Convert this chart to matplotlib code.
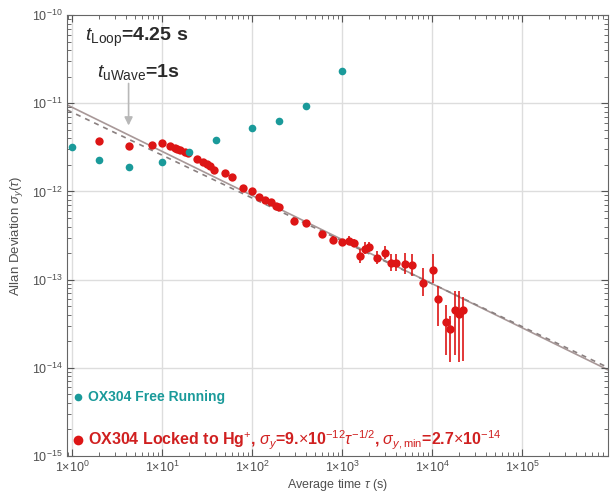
import matplotlib.pyplot as plt
import numpy as np

plt.rcParams['font.family'] = ['Liberation Sans', 'DejaVu Sans']
plt.rcParams['mathtext.fontset'] = 'custom'
plt.rcParams['mathtext.rm'] = 'Liberation Sans'
plt.rcParams['mathtext.it'] = 'Liberation Sans:italic'
plt.rcParams['mathtext.bf'] = 'Liberation Sans:bold'

# Free running oscillator
free_tau = [1.0, 2.0, 4.25, 10.0, 20.0, 40.0, 100.0, 200.0, 400.0, 1000.0]
free_adev = [3.2e-12, 2.3e-12, 1.9e-12, 2.14e-12, 2.8e-12, 3.8e-12, 5.2e-12, 6.3e-12, 9.3e-12, 2.3e-11]

# Locked to Hg+ (no visible error bars)
lock_tau = [2.0, 4.25, 7.7, 10.0, 12.3, 13.9, 14.8, 15.8, 18.0, 19.4, 24.5, 28.5, 31.6, 34.1,
            37.8, 50.1, 60.0, 79.4, 100.0, 119.6, 139.0, 163.0, 185.0, 200.0, 293.0, 398.0]
lock_adev = [3.7e-12, 3.25e-12, 3.4e-12, 3.5e-12, 3.25e-12, 3.08e-12, 3.0e-12, 2.92e-12, 2.77e-12,
             2.7e-12, 2.31e-12, 2.14e-12, 2.03e-12, 1.92e-12, 1.73e-12, 1.6e-12, 1.44e-12, 1.08e-12,
             1.0e-12, 8.55e-13, 8.1e-13, 7.5e-13, 6.76e-13, 6.58e-13, 4.68e-13, 4.33e-13]

# Locked to Hg+ (long tau, with error bars)
tail_tau = [600.0, 794.0, 1000.0, 1197.0, 1360.0, 1585.0, 1800.0, 1995.0, 2450.0, 3000.0, 3500.0,
            3980.0, 5010.0, 6000.0, 7940.0, 10260.0, 11660.0, 14300.0, 15850.0, 18030.0, 19950.0, 22100.0]
tail_adev = [3.33e-13, 2.85e-13, 2.7e-13, 2.77e-13, 2.63e-13, 1.87e-13, 2.25e-13, 2.37e-13, 1.78e-13,
             2.03e-13, 1.56e-13, 1.56e-13, 1.52e-13, 1.48e-13, 9.25e-14, 1.3e-13, 6.08e-14, 3.33e-14,
             2.77e-14, 4.56e-14, 4.11e-14, 4.56e-14]
tail_lo = [3.1e-13, 2.6e-13, 2.5e-13, 2.5e-13, 2.35e-13, 1.55e-13, 1.95e-13, 2.05e-13, 1.5e-13,
           1.7e-13, 1.25e-13, 1.25e-13, 1.15e-13, 1.1e-13, 6.5e-14, 9.2e-14, 3.0e-14, 1.4e-14,
           1.15e-14, 1.4e-14, 1.15e-14, 1.2e-14]
tail_hi = [3.6e-13, 3.1e-13, 2.9e-13, 3.1e-13, 2.9e-13, 2.2e-13, 2.65e-13, 2.7e-13, 2.1e-13,
           2.4e-13, 1.95e-13, 1.95e-13, 2.0e-13, 1.95e-13, 1.35e-13, 1.95e-13, 8.5e-14, 5.1e-14,
           3.9e-14, 7.5e-14, 7.5e-14, 6.3e-14]

# fits
fit_amp = 9e-12
fit2_amp = 7.9e-12
fit2_slope = -0.486
xmin, xmax = 0.88, 9e5

teal = '#1a9a9a'
red = '#dd1515'
grid_col = '#dddddd'
txt_col = '#505050'

fig = plt.figure(figsize=(6.11, 4.93), dpi=100)
ax = fig.add_axes([0.1097, 0.075, 0.8853, 0.8945])
ax.set_xscale('log')
ax.set_yscale('log')
ax.set_xlim(xmin, xmax)
ax.set_ylim(1e-15, 1e-10)

# grid
for d in range(0, 6):
    ax.axvline(10.0 ** d, color=grid_col, lw=1, zorder=0)
for d in range(-14, -10):
    ax.axhline(10.0 ** d, color=grid_col, lw=1, zorder=0)

# fit lines
t = np.array([xmin, xmax])
ax.plot(t, fit_amp * t ** -0.5, color='#a89898', lw=1.2, zorder=1)
ax.plot(t, fit2_amp * t ** fit2_slope, color='#8a8080', lw=1.2, ls=(0, (3, 3)), zorder=1)

# error bars
lo = np.array(tail_adev) - np.array(tail_lo)
hi = np.array(tail_hi) - np.array(tail_adev)
ax.errorbar(tail_tau, tail_adev, yerr=[lo, hi], fmt='none', ecolor=red, elinewidth=1.2, zorder=2)

ax.plot(lock_tau, lock_adev, 'o', color=red, ms=6, mec='none', zorder=3)
ax.plot(tail_tau, tail_adev, 'o', color=red, ms=6, mec='none', zorder=3)
ax.plot(free_tau, free_adev, 'o', color=teal, ms=5.5, mec='none', zorder=4)

# arrow marking t_Loop
ax.annotate('', xy=(4.25, 5.2e-12), xytext=(4.25, 1.8e-11),
            arrowprops=dict(arrowstyle='-|>', color='#b8b8b8', lw=1.2, mutation_scale=12))

ax.text(1.39, 5.6e-11, r'$t_{\mathrm{Loop}}$=4.25 s', fontsize=14, fontweight='bold',
        color='#2a2a2a', va='center')
ax.text(1.9, 2.25e-11, r'$t_{\mathrm{uWave}}$=1s', fontsize=14, fontweight='bold',
        color='#2a2a2a', va='center')

# legend-like labels
ax.plot([1.17], [4.7e-15], 'o', color=teal, ms=5.5, mec='none', clip_on=False)
ax.text(1.5, 4.7e-15, 'OX304 Free Running', color=teal, fontsize=10, fontweight='bold', va='center')
ax.plot([1.17], [1.5e-15], 'o', color=red, ms=7, mec='none', clip_on=False)
ax.text(1.5, 1.5e-15,
        r'OX304 Locked to Hg$^{+}$, $\sigma_y$=9.$\times$10$^{-12}$$\tau^{-1/2}$, $\sigma_{y,\mathrm{min}}$=2.7$\times$10$^{-14}$',
        color='#d02020', fontsize=11.5, fontweight='bold', va='center')

# ticks
ax.set_xticks([10.0 ** d for d in range(0, 6)])
ax.set_xticklabels([r'1$\times$10$^{%d}$' % d for d in range(0, 6)])
ax.set_yticks([10.0 ** d for d in range(-15, -9)])
ax.set_yticklabels([r'10$^{%d}$' % d for d in range(-15, -9)])
ax.tick_params(which='both', direction='in', top=True, right=True, colors='#555555',
               labelcolor=txt_col, labelsize=9, pad=3)
ax.tick_params(which='major', length=5)
ax.tick_params(which='minor', length=3)
for s in ax.spines.values():
    s.set_color('#666666')

ax.set_xlabel(r'Average time $\tau$ (s)', color=txt_col, fontsize=9, labelpad=1.5)
ax.set_ylabel(r'Allan Deviation $\sigma_y(\tau)$', color=txt_col, fontsize=9.5, labelpad=5)

fig.savefig('out.png', dpi=100)
